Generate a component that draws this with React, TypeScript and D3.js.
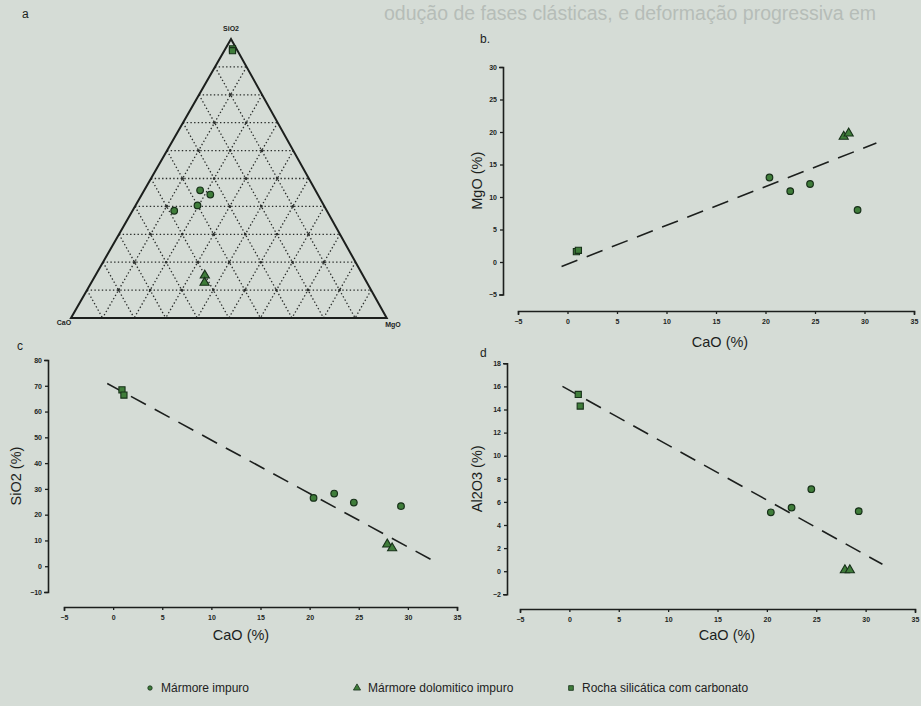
import React, { useEffect, useRef } from 'react';
import * as d3 from 'd3';

// Mármore impuro
const marmoreCaO = [20.4, 22.5, 24.5, 29.3];
const marmoreMgO = [13.0, 10.9, 12.0, 8.0];
const marmoreSiO2 = [26.5, 28.2, 24.7, 23.3];
const marmoreAl2O3 = [5.1, 5.5, 7.1, 5.2];

// Mármore dolomítico impuro
const dolomiticoCaO = [27.9, 28.4];
const dolomiticoMgO = [19.3, 19.8];
const dolomiticoSiO2 = [8.5, 7.0];
const dolomiticoAl2O3 = [0.1, 0.1];

// Rocha silicática com carbonato
const rochaCaO = [0.9, 1.1];
const rochaMgO = [1.6, 1.8];
const rochaSiO2 = [68.4, 66.4];
const rochaAl2O3 = [15.3, 14.3];

// trend lines (end points)
const trendMgOx = [-0.6, 31.2];
const trendMgOy = [-0.7, 18.3];
const trendSiO2x = [-0.6, 32.4];
const trendSiO2y = [70.9, 2.5];
const trendAl2O3x = [-0.7, 31.7];
const trendAl2O3y = [16.0, 0.6];

const caoTicks = [-5, 0, 5, 10, 15, 20, 25, 30, 35];
const mgoTicks = [-5, 0, 5, 10, 15, 20, 25, 30];
const sio2Ticks = [-10, 0, 10, 20, 30, 40, 50, 60, 70, 80];
const al2o3Ticks = [-2, 0, 2, 4, 6, 8, 10, 12, 14, 16, 18];
const ternaryGrid = [0.1, 0.2, 0.3, 0.4, 0.5, 0.6, 0.7, 0.8, 0.9];

const legendLabels = ['Mármore impuro', 'Mármore dolomitico impuro', 'Rocha silicática com carbonato'];
const bleedText = 'odução de fases clásticas, e deformação progressiva em';

const ink = '#1c1f1d';
const green = '#3f7d3a';
const greenEdge = '#173019';
const font = '"Liberation Sans", Arial, sans-serif';
const bg = '#d5dcd6';

const Axis = ({ scale, orient, ticks, transform }) => {
  const ref = useRef(null);
  useEffect(() => {
    const axis = (orient === 'left' ? d3.axisLeft(scale) : d3.axisBottom(scale))
      .tickValues(ticks)
      .tickSize(3)
      .tickSizeOuter(4)
      .tickPadding(orient === 'left' ? 3 : 5);
    const g = d3.select(ref.current);
    g.call(axis);
    g.select('.domain').attr('stroke', ink).attr('stroke-width', 1.6);
    g.selectAll('.tick line').attr('stroke', ink).attr('stroke-width', 1.3);
    g.selectAll('.tick text')
      .attr('fill', ink)
      .attr('font-size', 7)
      .attr('font-weight', 'bold')
      .attr('font-family', font);
  }, [scale, orient, ticks]);
  return <g ref={ref} transform={transform} />;
};

const Marker = ({ shape, x, y }) => {
  if (shape === 'circle') {
    return <circle cx={x} cy={y} r={3.3} fill={green} stroke={greenEdge} strokeWidth={1.2} />;
  }
  const sym = shape === 'triangle' ? d3.symbolTriangle : d3.symbolSquare;
  const d = d3.symbol().type(sym).size(shape === 'triangle' ? 36 : 38)();
  return <path d={d} transform={`translate(${x},${y})`} fill={green} stroke={greenEdge} strokeWidth={1.1} />;
};

const Scatter = ({ xRange, yDomain, yRange, yTicks, axisX, axisY, yValues, trendX, trendY, yTitle, yTitleX, xTitleX, xTitleY }) => {
  const x = d3.scaleLinear().domain([-5, 35]).range(xRange);
  const y = d3.scaleLinear().domain(yDomain).range(yRange);
  const line = d3.line().x((d) => x(d[0])).y((d) => y(d[1]));
  const groups = [
    { shape: 'circle', xs: marmoreCaO, ys: yValues[0] },
    { shape: 'triangle', xs: dolomiticoCaO, ys: yValues[1] },
    { shape: 'square', xs: rochaCaO, ys: yValues[2] },
  ];
  const yMid = (yRange[0] + yRange[1]) / 2;
  return (
    <g>
      <Axis scale={y} orient="left" ticks={yTicks} transform={`translate(${axisX},0)`} />
      <Axis scale={x} orient="bottom" ticks={caoTicks} transform={`translate(0,${axisY})`} />
      <path
        d={line(d3.zip(trendX, trendY))}
        fill="none"
        stroke={ink}
        strokeWidth={1.6}
        strokeDasharray="17 10"
      />
      {groups.map((g) =>
        g.xs.map((v, i) => <Marker key={g.shape + i} shape={g.shape} x={x(v)} y={y(g.ys[i])} />)
      )}
      <text
        transform={`translate(${yTitleX},${yMid}) rotate(-90)`}
        textAnchor="middle"
        dominantBaseline="central"
        fontSize={14.5}
        fontFamily={font}
        fill={ink}
      >
        {yTitle}
      </text>
      <text x={xTitleX} y={xTitleY} textAnchor="middle" fontSize={14.5} fontFamily={font} fill={ink}>
        CaO (%)
      </text>
    </g>
  );
};

const Ternary = () => {
  const top = [231, 39];
  const left = [71, 318];
  const right = [386.7, 318];
  // s = SiO2, c = CaO, m = MgO
  const pt = (s, c, m) => {
    const t = s + c + m;
    return [
      (s * top[0] + c * left[0] + m * right[0]) / t,
      (s * top[1] + c * left[1] + m * right[1]) / t,
    ];
  };
  const seg = (a, b) => d3.line()([a, b]);
  const gridLines = [];
  ternaryGrid.forEach((t) => {
    gridLines.push(seg(pt(t, 1 - t, 0), pt(t, 0, 1 - t)));
    gridLines.push(seg(pt(1 - t, t, 0), pt(0, t, 1 - t)));
    gridLines.push(seg(pt(1 - t, 0, t), pt(0, 1 - t, t)));
  });
  const nodes = [];
  for (let a = 1; a < 10; a++) {
    for (let b = 1; a + b < 10; b++) {
      nodes.push(pt(a / 10, b / 10, (10 - a - b) / 10));
    }
  }
  const groups = [
    { shape: 'circle', s: marmoreSiO2, c: marmoreCaO, m: marmoreMgO },
    { shape: 'triangle', s: dolomiticoSiO2, c: dolomiticoCaO, m: dolomiticoMgO },
    { shape: 'square', s: rochaSiO2, c: rochaCaO, m: rochaMgO },
  ];
  return (
    <g>
      {gridLines.map((d, i) => (
        <path key={i} d={d} stroke="#2a2d2b" strokeWidth={1.3} strokeDasharray="1.4 2.3" fill="none" />
      ))}
      {nodes.map((p, i) => (
        <circle key={i} cx={p[0]} cy={p[1]} r={1.3} fill="#2a2d2b" />
      ))}
      <path d={d3.line()([top, left, right, top]) + 'Z'} fill="none" stroke={ink} strokeWidth={2} />
      {groups.map((g) =>
        g.s.map((v, i) => {
          const p = pt(v, g.c[i], g.m[i]);
          return <Marker key={g.shape + i} shape={g.shape} x={p[0]} y={p[1]} />;
        })
      )}
      <text x={231} y={31} textAnchor="middle" fontSize={7} fontWeight="bold" fontFamily={font} fill={ink}>SiO2</text>
      <text x={64} y={325} textAnchor="middle" fontSize={7} fontWeight="bold" fontFamily={font} fill={ink}>CaO</text>
      <text x={393} y={327} textAnchor="middle" fontSize={7} fontWeight="bold" fontFamily={font} fill={ink}>MgO</text>
    </g>
  );
};

const App = () => {
  const legendX = [150, 357, 571];
  const legendShapes = ['circle', 'triangle', 'square'];
  return (
    <svg
      width={921}
      height={706}
      style={{ position: 'absolute', left: 0, top: 0, background: bg }}
      fontFamily={font}
    >
      <rect width={921} height={706} fill={bg} />
      <text x={384} y={20} fontSize={19.5} fontFamily={font} fill="#b6bdb8">{bleedText}</text>

      <text x={22} y={18} fontSize={12} fill={ink}>a</text>
      <text x={480} y={43} fontSize={12} fill={ink}>b.</text>
      <text x={17} y={350} fontSize={12} fill={ink}>c</text>
      <text x={480} y={357} fontSize={12} fill={ink}>d</text>

      <Ternary />

      <Scatter
        xRange={[518, 914]}
        yDomain={[-5, 30]}
        yRange={[294.5, 67]}
        yTicks={mgoTicks}
        axisX={503}
        axisY={311}
        yValues={[marmoreMgO, dolomiticoMgO, rochaMgO]}
        trendX={trendMgOx}
        trendY={trendMgOy}
        yTitle="MgO (%)"
        yTitleX={477}
        xTitleX={720}
        xTitleY={347}
      />
      <Scatter
        xRange={[64, 457]}
        yDomain={[-10, 80]}
        yRange={[592, 360]}
        yTicks={sio2Ticks}
        axisX={48}
        axisY={607}
        yValues={[marmoreSiO2, dolomiticoSiO2, rochaSiO2]}
        trendX={trendSiO2x}
        trendY={trendSiO2y}
        yTitle="SiO2 (%)"
        yTitleX={16}
        xTitleX={241}
        xTitleY={640}
      />
      <Scatter
        xRange={[520, 915]}
        yDomain={[-2, 18]}
        yRange={[594.3, 363.3]}
        yTicks={al2o3Ticks}
        axisX={507}
        axisY={609}
        yValues={[marmoreAl2O3, dolomiticoAl2O3, rochaAl2O3]}
        trendX={trendAl2O3x}
        trendY={trendAl2O3y}
        yTitle="Al2O3 (%)"
        yTitleX={477}
        xTitleX={727}
        xTitleY={640}
      />

      {legendLabels.map((label, i) => (
        <g key={label}>
          {legendShapes[i] === 'circle' ? (
            <circle cx={legendX[i]} cy={688} r={2.2} fill={green} stroke={greenEdge} strokeWidth={0.8} />
          ) : (
            <path
              d={d3.symbol().type(legendShapes[i] === 'triangle' ? d3.symbolTriangle : d3.symbolSquare).size(22)()}
              transform={`translate(${legendX[i]},688)`}
              fill={green}
              stroke={greenEdge}
              strokeWidth={0.8}
            />
          )}
          <text x={legendX[i] + 11} y={692} fontSize={12} fill="#222">{label}</text>
        </g>
      ))}
    </svg>
  );
};

export default App;
